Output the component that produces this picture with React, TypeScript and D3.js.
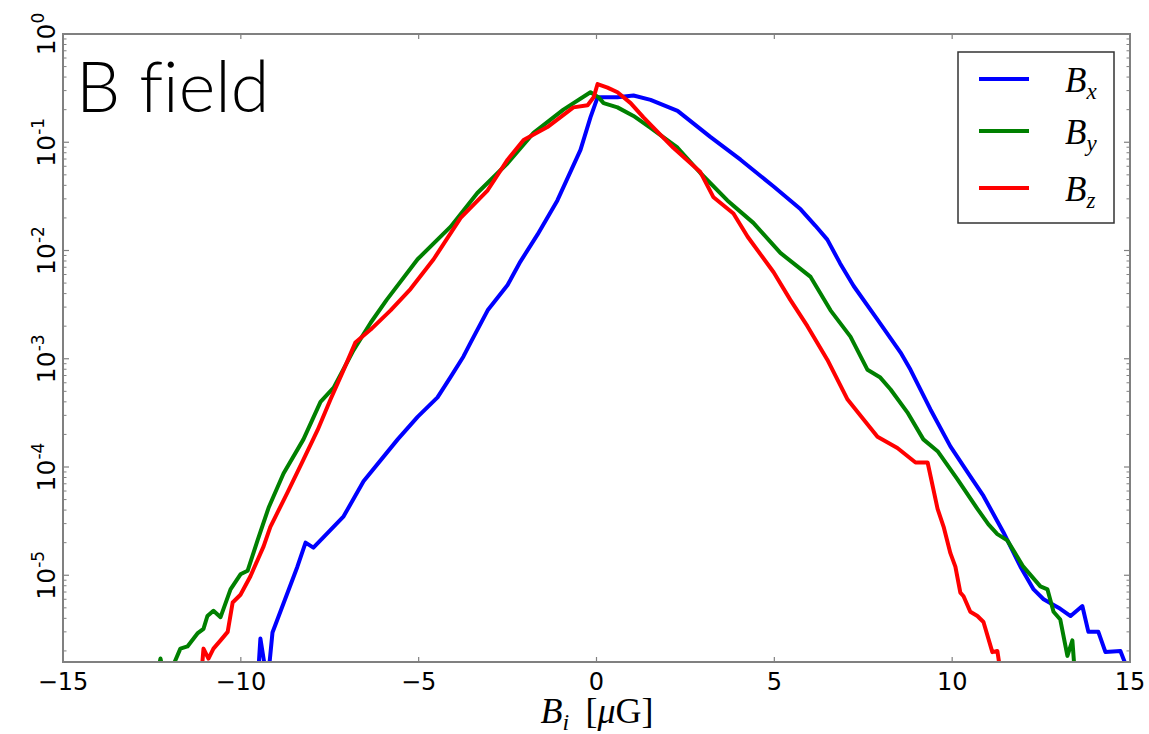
import React from 'react';
import * as d3 from 'd3';

// distribution of field components: [B (μG), probability]
const bx: [number, number][] = [
  [-9.53, 1e-6], [-9.45, 2.6e-6], [-9.25, 1e-6], [-9.11, 2.96e-6], [-8.41, 1.2e-5], [-8.18, 2.0e-5],
  [-7.96, 1.8e-5], [-7.68, 2.24e-5], [-7.11, 3.5e-5], [-6.55, 7.4e-5], [-5.59, 1.8e-4], [-5.03, 2.9e-4],
  [-4.47, 4.4e-4], [-4.10, 6.8e-4], [-3.74, 1.05e-3], [-3.54, 1.41e-3], [-3.06, 2.8e-3], [-2.50, 4.8e-3],
  [-2.14, 7.9e-3], [-1.66, 1.4e-2], [-1.10, 2.9e-2], [-0.45, 8.5e-2], [-0.17, 0.17], [0.03, 0.26],
  [0.20, 0.26], [0.59, 0.26], [1.04, 0.27], [1.52, 0.246], [2.28, 0.195], [3.20, 0.112], [4.05, 0.069],
  [4.98, 0.039], [5.74, 0.024], [6.15, 0.017], [6.49, 0.0126], [6.85, 7.6e-3], [7.23, 4.7e-3],
  [7.90, 2.3e-3], [8.55, 1.14e-3], [8.83, 7.9e-4], [9.39, 3.4e-4], [9.95, 1.55e-4], [10.51, 8.2e-5],
  [10.88, 5.4e-5], [11.44, 2.5e-5], [11.92, 1.2e-5], [12.29, 7.4e-6], [12.57, 6.0e-6], [13.04, 4.9e-6],
  [13.33, 4.2e-6], [13.66, 5.2e-6], [13.83, 3.0e-6], [14.11, 3.0e-6], [14.31, 1.95e-6], [14.73, 2.0e-6],
  [14.95, 1.3e-6],
];

const by: [number, number][] = [
  [-12.4, 1e-6], [-12.26, 1.7e-6], [-12.1, 1e-6], [-11.89, 1.5e-6], [-11.70, 2.1e-6], [-11.50, 2.2e-6],
  [-11.22, 2.9e-6], [-11.05, 3.2e-6], [-10.94, 4.2e-6], [-10.77, 4.7e-6], [-10.57, 4.1e-6], [-10.29, 7.4e-6],
  [-10.01, 1.02e-5], [-9.81, 1.1e-5], [-9.53, 2.1e-5], [-9.22, 4.2e-5], [-8.80, 8.7e-5], [-8.24, 1.8e-4],
  [-7.76, 4.0e-4], [-7.39, 5.4e-4], [-6.83, 1.2e-3], [-6.35, 2.15e-3], [-5.90, 3.5e-3], [-5.03, 8.3e-3],
  [-4.10, 1.66e-2], [-3.35, 3.4e-2], [-2.50, 6.4e-2], [-1.77, 0.122], [-0.93, 0.20], [-0.17, 0.29],
  [0.06, 0.26], [0.20, 0.23], [0.59, 0.21], [1.04, 0.175], [1.52, 0.136], [2.28, 0.089], [2.92, 0.052],
  [3.68, 0.029], [4.41, 0.018], [5.17, 9.5e-3], [6.02, 5.7e-3], [6.58, 2.8e-3], [7.14, 1.6e-3],
  [7.62, 7.9e-4], [7.98, 6.7e-4], [8.27, 5.2e-4], [8.74, 3.2e-4], [9.19, 1.8e-4], [9.59, 1.4e-4],
  [10.15, 7.7e-5], [10.71, 4.1e-5], [11.02, 2.95e-5], [11.27, 2.4e-5], [11.55, 2.1e-5], [12.00, 1.2e-5],
  [12.48, 7.9e-6], [12.68, 7.4e-6], [12.85, 4.6e-6], [13.04, 3.9e-6], [13.24, 1.8e-6], [13.38, 2.5e-6],
  [13.47, 1e-6],
];

const bz: [number, number][] = [
  [-11.13, 1e-6], [-11.05, 2.1e-6], [-10.91, 1.7e-6], [-10.77, 2.1e-6], [-10.57, 2.5e-6], [-10.37, 3.0e-6],
  [-10.23, 5.6e-6], [-10.01, 6.6e-6], [-9.73, 9.8e-6], [-9.36, 1.85e-5], [-9.17, 2.8e-5], [-8.69, 5.8e-5],
  [-8.24, 1.17e-4], [-7.84, 2.2e-4], [-7.48, 4.2e-4], [-7.11, 7.9e-4], [-6.78, 1.41e-3], [-6.35, 1.86e-3],
  [-5.79, 2.8e-3], [-5.23, 4.4e-3], [-4.58, 8.3e-3], [-3.82, 2.0e-2], [-3.06, 3.6e-2], [-2.50, 6.9e-2],
  [-2.05, 0.105], [-1.38, 0.138], [-0.65, 0.21], [-0.25, 0.22], [-0.08, 0.26], [0.03, 0.345],
  [0.31, 0.32], [0.59, 0.29], [0.96, 0.23], [1.32, 0.17], [1.80, 0.117], [2.16, 0.089], [2.92, 0.053],
  [3.29, 0.031], [3.85, 0.022], [4.25, 0.0134], [4.98, 6.3e-3], [5.45, 3.5e-3], [5.93, 2.0e-3],
  [6.49, 9.8e-4], [7.06, 4.2e-4], [7.51, 2.75e-4], [7.90, 1.9e-4], [8.46, 1.5e-4], [8.97, 1.1e-4],
  [9.31, 1.1e-4], [9.59, 4.1e-5], [9.76, 2.8e-5], [9.95, 1.6e-5], [10.09, 1.2e-5], [10.23, 6.9e-6],
  [10.32, 6.4e-6], [10.51, 4.6e-6], [10.71, 4.2e-6], [10.88, 3.7e-6], [11.13, 1.95e-6], [11.27, 2.0e-6],
  [11.41, 1e-6],
];

const seriesNames = ['x', 'y', 'z'];
const seriesColors = ['#0000ff', '#008000', '#ff0000'];
const xTicks = [-15, -10, -5, 0, 5, 10, 15];
const yExponents = [0, -1, -2, -3, -4, -5];

const W = 1149, H = 734;
const L = 63, R = 1130, T = 34, B = 662;

export default function App() {
  const x = d3.scaleLinear().domain([-15, 15]).range([L, R]);
  const y = d3.scaleLog().domain([1.58e-6, 1]).range([B, T]);
  const line = d3.line<[number, number]>().x(d => x(d[0])).y(d => y(d[1]));
  const all = [bx, by, bz];

  // minor ticks 2..9 x 10^k inside the visible range
  const minor: number[] = [];
  for (let k = -6; k < 0; k++) {
    for (let m = 2; m <= 9; m++) {
      const v = m * Math.pow(10, k);
      if (v >= 1.58e-6 && v < 1) minor.push(v);
    }
  }
  const axisCol = '#808080';
  const sans = '"DejaVu Sans", sans-serif';
  const serif = '"Liberation Serif", "Times New Roman", serif';

  return (
    <svg width={W} height={H} style={{ position: 'absolute', left: 0, top: 0, background: '#fff' }}>
      <defs>
        <clipPath id="plot">
          <rect x={L} y={T} width={R - L} height={B - T} />
        </clipPath>
      </defs>

      <g clipPath="url(#plot)">
        {all.map((s, i) => (
          <path key={i} d={line(s) || ''} fill="none" stroke={seriesColors[i]} strokeWidth={4}
            strokeLinejoin="round" strokeLinecap="butt" />
        ))}
      </g>

      {/* ticks */}
      {xTicks.map(t => (
        <g key={'xt' + t}>
          <line x1={x(t)} x2={x(t)} y1={B} y2={B - 5} stroke={axisCol} strokeWidth={1.2} />
          <line x1={x(t)} x2={x(t)} y1={T} y2={T + 5} stroke={axisCol} strokeWidth={1.2} />
          <text x={x(t)} y={690} textAnchor="middle" fontFamily={sans} fontSize={24} fill="#000">
            {t < 0 ? '\u2212' + Math.abs(t) : t}
          </text>
        </g>
      ))}
      {yExponents.map(e => {
        const yy = y(Math.pow(10, e));
        return (
          <g key={'yt' + e}>
            <line x1={L} x2={L + 6} y1={yy} y2={yy} stroke={axisCol} strokeWidth={1.2} />
            <line x1={R} x2={R - 6} y1={yy} y2={yy} stroke={axisCol} strokeWidth={1.2} />
            <text transform={`translate(55,${yy}) rotate(-90)`} textAnchor="middle" fontFamily={sans} fill="#000">
              <tspan fontSize={25}>10</tspan>
              <tspan fontSize={17} dy={-11}>{e}</tspan>
            </text>
          </g>
        );
      })}
      {minor.map(v => (
        <g key={'m' + v}>
          <line x1={L} x2={L + 3.5} y1={y(v)} y2={y(v)} stroke={axisCol} strokeWidth={1} />
          <line x1={R} x2={R - 3.5} y1={y(v)} y2={y(v)} stroke={axisCol} strokeWidth={1} />
        </g>
      ))}

      <rect x={L} y={T} width={R - L} height={B - T} fill="none" stroke={axisCol} strokeWidth={2} />

      {/* x label */}
      <text x={597} y={723} textAnchor="middle" fontFamily={serif} fontSize={36} fill="#000">
        <tspan fontStyle="italic">B</tspan>
        <tspan fontStyle="italic" fontSize={24} dy={7}>i</tspan>
        <tspan dy={-7}>{'\u2009 ['}</tspan>
        <tspan fontStyle="italic">μ</tspan>
        <tspan>G]</tspan>
      </text>

      {/* title */}
      <text x={76} y={112} fontFamily="Lato, Roboto, sans-serif" fontWeight={300} fontSize={70}
        fill="#000" style={{ fontVariantLigatures: 'none' }}>
        B field
      </text>

      {/* legend */}
      <rect x={958} y={52} width={156} height={171} fill="#fff" stroke="#333" strokeWidth={1.5} />
      {seriesNames.map((n, i) => {
        const ly = [79, 131, 188][i];
        return (
          <g key={n}>
            <line x1={979} x2={1029} y1={ly} y2={ly} stroke={seriesColors[i]} strokeWidth={4} />
            <text x={1065} y={ly + 13} fontFamily={serif} fontSize={35} fontStyle="italic" fill="#000">
              B<tspan fontSize={23} dy={7}>{n}</tspan>
            </text>
          </g>
        );
      })}
    </svg>
  );
}
